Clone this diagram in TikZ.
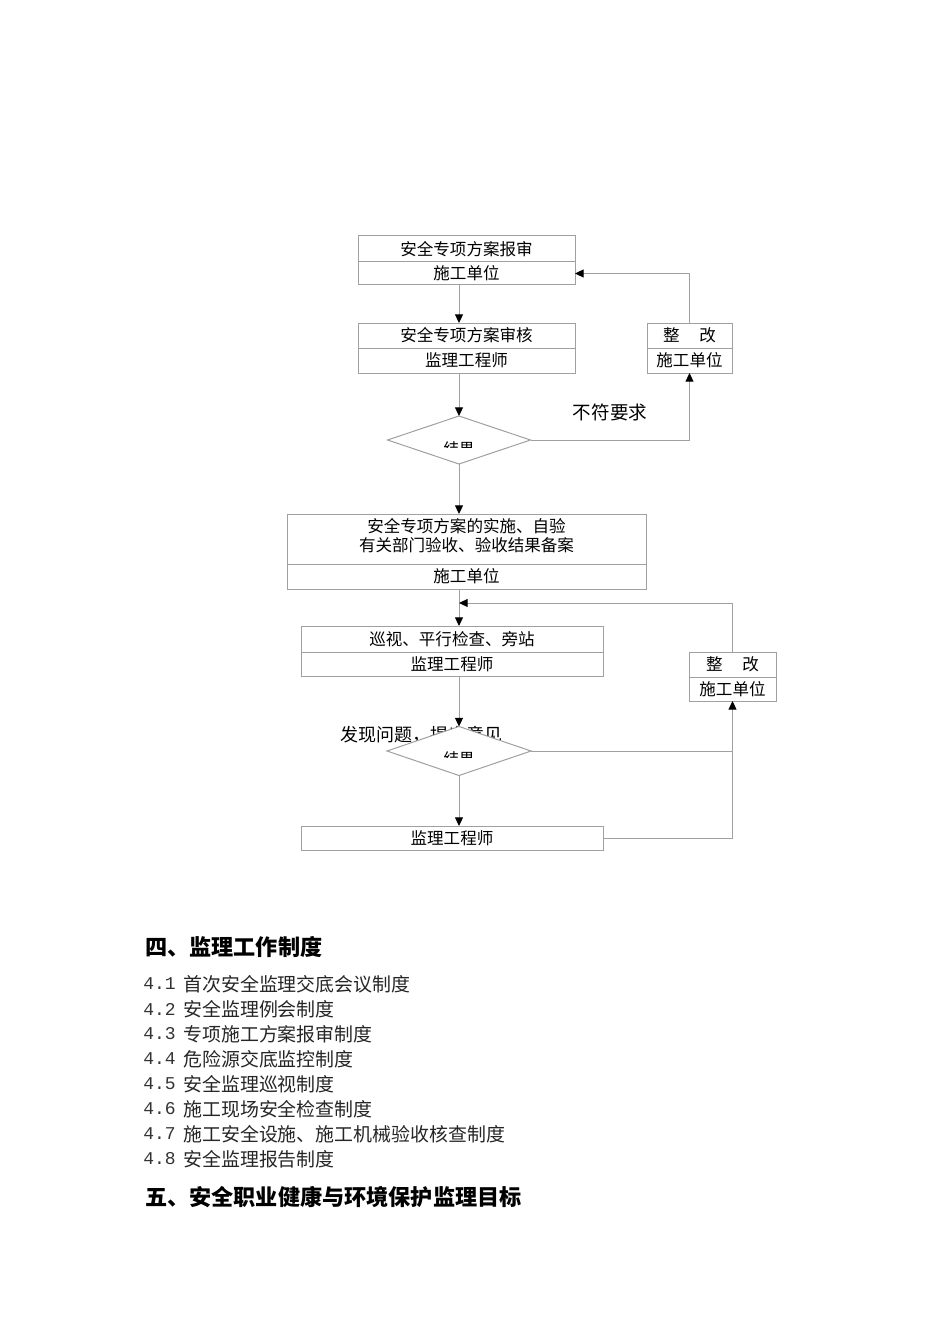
\documentclass[tikz,border=0pt]{standalone}
\usepackage{fontspec}
\newfontfamily\cjk{Noto Sans CJK SC}
\newfontfamily\mono{Liberation Mono}
\usetikzlibrary{shapes.geometric,arrows.meta}
\definecolor{linegray}{HTML}{A0A0A0}
\begin{document}
\begin{tikzpicture}[x=0.75pt,y=-0.75pt,
  cell/.style={draw=linegray, line width=0.75pt, inner sep=0pt, outer sep=0pt,
    font=\cjk\fontsize{12.4}{15}\selectfont, align=center},
  dia/.style={draw=linegray, fill=white, line width=0.75pt, diamond, inner sep=0pt, outer sep=0pt},
  conn/.style={draw=linegray, line width=0.75pt},
  arr/.style={conn, -{Triangle[length=6.5pt,width=6pt,fill=black,color=black]}},
  lbl/.style={font=\cjk\fontsize{13.9}{16}\selectfont, inner sep=0pt},
  item/.style={font=\cjk\fontsize{14.2}{16}\selectfont, anchor=west, inner sep=0pt, text=black!85},
  num/.style={font=\mono\fontsize{13.5}{16}\selectfont, anchor=west, inner sep=0pt, text=black!80},
  head/.style={font=\cjk\bfseries\fontsize{16.6}{19}\selectfont, anchor=west, inner sep=0pt}
]
\useasboundingbox (0,0) rectangle (950,1344);
\fill[white] (0,0) rectangle (950,1344);

\coordinate (fx) at (459,0);

% box 1
\node[cell, minimum width=217*0.75pt, minimum height=26*0.75pt] (b1t) at (466.5,249) {安全专项方案报审};
\node[cell, minimum width=217*0.75pt, minimum height=23*0.75pt] (b1b) at (466.5,273.5) {施工单位};
% box 2
\node[cell, minimum width=217*0.75pt, minimum height=25*0.75pt] (b2t) at (466.5,335.5) {安全专项方案审核};
\node[cell, minimum width=217*0.75pt, minimum height=25*0.75pt] (b2b) at (466.5,360.5) {监理工程师};
% rectify 1
\node[cell, minimum width=85*0.75pt, minimum height=25*0.75pt] (z1t) at (689.5,335.5) {整\hspace{1.2em}改};
\node[cell, minimum width=85*0.75pt, minimum height=25*0.75pt] (z1b) at (689.5,360.5) {施工单位};
% diamond 1
\node[dia, minimum width=143*0.75pt, minimum height=48*0.75pt] (d1) at (459,440) {};
\begin{scope}
  \clip (380,420) rectangle (540,447);
  \node[font=\cjk\fontsize{11.5}{13}\selectfont, inner sep=0pt] (r1) at (459,449) {结果};
\end{scope}
\node[lbl] (l1) at (610,412) {不符要求};

% box 3
\node[cell, minimum width=359*0.75pt, minimum height=50*0.75pt] (b3t) at (466.5,539) {};
\node[font=\cjk\fontsize{12.4}{14.25}\selectfont, align=center, inner sep=0pt] (b3x) at (466.5,535.5) {安全专项方案的实施、自验\\有关部门验收、验收结果备案};
\node[cell, minimum width=359*0.75pt, minimum height=25*0.75pt] (b3b) at (466.5,576.5) {施工单位};
% box 4
\node[cell, minimum width=302*0.75pt, minimum height=26*0.75pt] (b4t) at (452,639) {巡视、平行检查、旁站};
\node[cell, minimum width=302*0.75pt, minimum height=24*0.75pt] (b4b) at (452,664) {监理工程师};
% rectify 2
\node[cell, minimum width=87*0.75pt, minimum height=25*0.75pt] (z2t) at (732.5,664.5) {整\hspace{1.2em}改};
\node[cell, minimum width=87*0.75pt, minimum height=24*0.75pt] (z2b) at (732.5,689) {施工单位};
% label under diamond 2
\node[font=\cjk\fontsize{13.5}{16}\selectfont, inner sep=0pt, anchor=west] (l2) at (340,735) {发现问题，提出意见};
% diamond 2
\node[dia, minimum width=144*0.75pt, minimum height=49*0.75pt] (d2) at (459,751) {};
\begin{scope}
  \clip (380,730) rectangle (540,757);
  \node[font=\cjk\fontsize{11.5}{13}\selectfont, inner sep=0pt] (r2) at (459,759) {结果};
\end{scope}
% box 5
\node[cell, minimum width=302*0.75pt, minimum height=24*0.75pt] (b5) at (452,838) {监理工程师};

\coordinate (j1) at (459,603);

% connectors
\draw[arr] (b1b.south -| fx) -- (b2t.north -| fx);
\draw[arr] (b2b.south -| fx) -- (d1.north);
\draw[arr] (d1.south) -- (b3t.north -| fx);
\draw[arr] (d1.east) -| (z1b.south);
\draw[arr] (z1t.north) |- (b1b.east);
\draw[arr] (b3b.south -| fx) -- (b4t.north -| fx);
\draw[arr] (z2t.north) |- (j1);
\draw[arr] (b4b.south -| fx) -- (d2.north);
\draw[arr] (d2.south) -- (b5.north -| fx);
\draw[arr] (d2.east) -| (z2b.south);
\draw[conn] (b5.east) -| (d2.east -| z2b.south);

% text below
\node[head] (h4) at (145,947) {四、监理工作制度};
\node[num] (n1) at (143,984) {4.1}; \node[item] (t1) at (183,984) {首次安全监理交底会议制度};
\node[num] (n2) at (143,1009) {4.2}; \node[item] (t2) at (183,1009) {安全监理例会制度};
\node[num] (n3) at (143,1034) {4.3}; \node[item] (t3) at (183,1034) {专项施工方案报审制度};
\node[num] (n4) at (143,1059) {4.4}; \node[item] (t4) at (183,1059) {危险源交底监控制度};
\node[num] (n5) at (143,1084) {4.5}; \node[item] (t5) at (183,1084) {安全监理巡视制度};
\node[num] (n6) at (143,1109) {4.6}; \node[item] (t6) at (183,1109) {施工现场安全检查制度};
\node[num] (n7) at (143,1134) {4.7}; \node[item] (t7) at (183,1134) {施工安全设施、施工机械验收核查制度};
\node[num] (n8) at (143,1159) {4.8}; \node[item] (t8) at (183,1159) {安全监理报告制度};
\node[head] (h5) at (145,1197) {五、安全职业健康与环境保护监理目标};
\end{tikzpicture}
\end{document}
